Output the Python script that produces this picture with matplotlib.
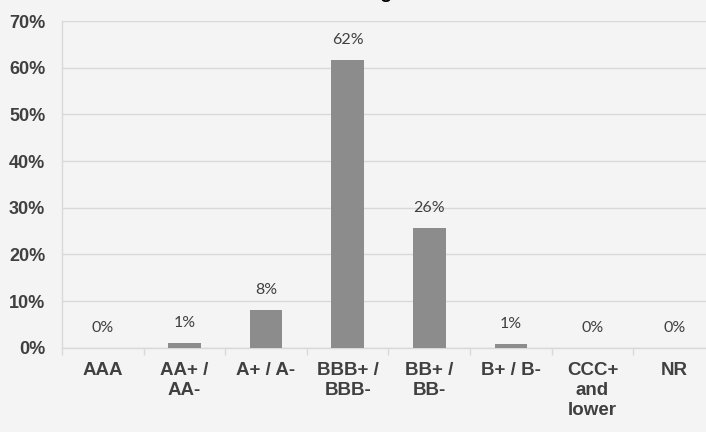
import matplotlib
matplotlib.use("Agg")
import matplotlib.pyplot as plt
import numpy as np
from matplotlib.ticker import FuncFormatter

categories = ["AAA", "AA+ /\nAA-", "A+ / A-", "BBB+ /\nBBB-", "BB+ /\nBB-", "B+ / B-", "CCC+\nand\nlower", "NR"]
values = [0.0, 1.0, 8.1, 61.7, 25.6, 0.8, 0.0, 0.0]
yticks = [0, 10, 20, 30, 40, 50, 60, 70]
title = "Credit Rating"

bg = "#f4f4f4"
fig = plt.figure(figsize=(7.06, 4.32), dpi=100, facecolor=bg)
ax = fig.add_axes([62/706, 84.3/432, (715-62)/706, (411-84.3)/432])
ax.set_facecolor(bg)

x = np.arange(len(categories))
ax.bar(x, values, width=0.4, color="#8c8c8c", zorder=3)

ax.set_xlim(-0.5, len(categories) - 0.5)
ax.set_ylim(0, 70)
ax.set_yticks(yticks)
ax.yaxis.set_major_formatter(FuncFormatter(lambda v, p: f"{v:.0f}%"))
ax.grid(axis="y", color="#d9d9d9", linewidth=1.0, zorder=0)
ax.set_axisbelow(True)

for s in ["top", "right"]:
    ax.spines[s].set_visible(False)
ax.spines["left"].set_color("#d9d9d9")
ax.spines["bottom"].set_color("#d9d9d9")
ax.spines["left"].set_linewidth(1.0)
ax.spines["bottom"].set_linewidth(1.0)

ax.tick_params(axis="y", length=0, pad=12, labelsize=13, labelcolor="#404040")
for lab in ax.get_yticklabels():
    lab.set_fontweight("bold")
    lab.set_family("Liberation Sans")

ax.set_xticks(x)
ax.set_xticklabels(categories, fontsize=13.5, fontweight="bold", color="#404040",
                   family="Liberation Sans", linespacing=1.25)
ax.tick_params(axis="x", length=0, pad=10)
ax.set_xticks(np.arange(len(categories) + 1) - 0.5, minor=True)
ax.tick_params(axis="x", which="minor", length=5, color="#d9d9d9", width=1)

for xi, v in zip(x, values):
    ax.annotate(f"{v:.0f}%", (xi, v), xytext=(0, 14.5), textcoords="offset points",
                ha="center", va="center", fontsize=11.5, color="#404040", family="Lato")

fig.text(392/706, 1 + 2/432, title, ha="right", va="baseline", fontsize=14,
         fontweight="bold", color="#000000", family="Liberation Sans")

fig.savefig("out.png", dpi=100, facecolor=bg)
